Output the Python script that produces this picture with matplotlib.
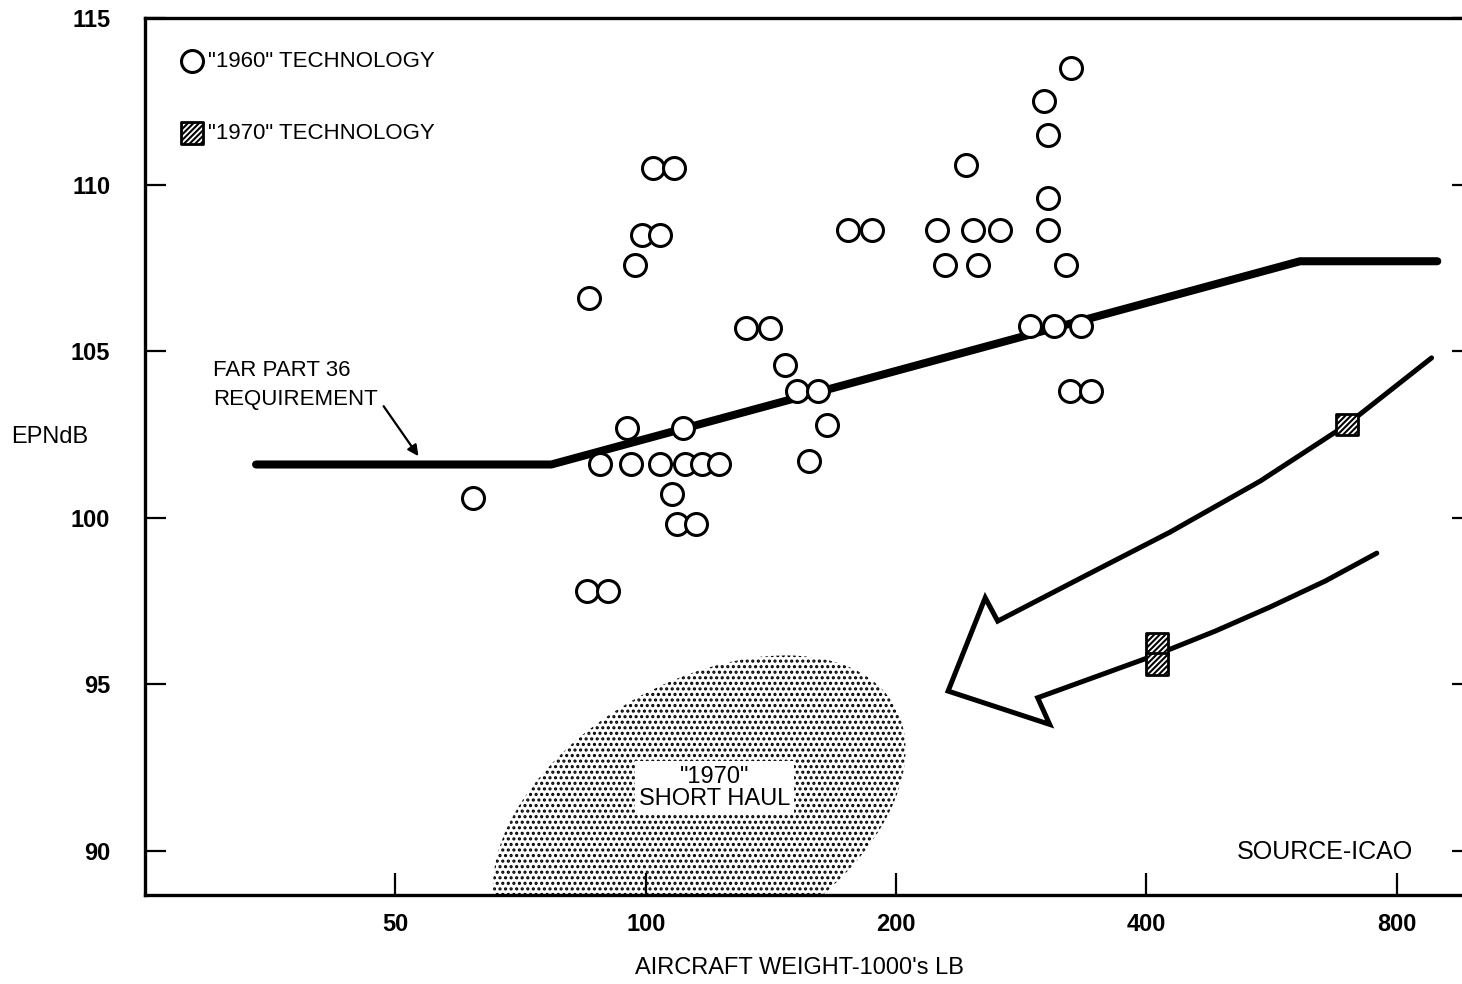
import matplotlib
matplotlib.use("Agg")
import matplotlib.pyplot as plt
import matplotlib.transforms as mtransforms
from matplotlib.patches import Ellipse

# "1960" technology aircraft: gross weight (1000 lb) and noise (EPNdB)
weight_1960 = [62, 85, 90, 85.5, 88, 95, 96, 97, 99, 104, 102, 108,
               104, 107.5, 109, 115, 111, 111.5, 117, 122.5, 132, 141, 147, 152,
               161, 157, 165, 175, 187, 224, 229, 243, 247.5, 251, 267, 290,
               310, 334, 301, 305, 305, 305, 320, 325, 324, 343]
epndb_1960 = [100.6, 97.8, 97.8, 106.6, 101.6, 102.7, 101.6, 107.6, 108.5, 108.5, 110.5, 110.5,
              101.6, 100.7, 99.8, 99.8, 102.7, 101.6, 101.6, 101.6, 105.7, 105.7, 104.6, 103.8,
              103.8, 101.7, 102.8, 108.65, 108.65, 108.65, 107.6, 110.6, 108.65, 107.6, 108.65, 105.75,
              105.75, 105.75, 112.5, 111.5, 109.6, 108.65, 107.6, 113.5, 103.8, 103.8]

# "1970" technology aircraft
weight_1970 = [412, 412, 697]
epndb_1970 = [96.2, 95.6, 102.8]

# FAR Part 36 requirement
far36_weight = [34, 77, 612, 895]
far36_epndb = [101.6, 101.6, 107.7, 107.7]

# trend through the 1970 aircraft, drawn as a big open arrow
arrow_weight = [881, 697, 548, 427, 337, 265,
                256, 231, 306, 296,
                352, 412, 484, 563, 656, 757]
arrow_epndb = [104.8, 102.8, 101.1, 99.57, 98.25, 96.9,
               97.6, 94.8, 93.8, 94.6,
               95.28, 95.9, 96.6, 97.32, 98.1, 98.94]

# "1970" short haul region (centre)
shorthaul_weight = 116
shorthaul_epndb = 91.0

x_ticks = [50, 100, 200, 400, 800]
y_ticks = [90, 95, 100, 105, 110, 115]

plt.rcParams["font.family"] = ["Liberation Sans", "DejaVu Sans"]
plt.rcParams["hatch.linewidth"] = 1.5

fig = plt.figure(figsize=(14.62, 9.84), dpi=100)
ax = fig.add_axes([145 / 1462, 89 / 984, 1328 / 1462, 877 / 984])

ax.set_xscale("log", base=2)
ax.set_xlim(25, 988)
ax.set_ylim(88.68, 115)

ax.plot(far36_weight, far36_epndb, color="black", lw=5.8,
        solid_capstyle="round", zorder=2)
ax.plot(arrow_weight, arrow_epndb, color="black", lw=3.6,
        solid_joinstyle="miter", solid_capstyle="round", zorder=2)

ax.scatter(weight_1960, epndb_1960, s=250, facecolor="white",
           edgecolor="black", linewidths=2.2, zorder=3,
           label='"1960" TECHNOLOGY')
ax.scatter(weight_1970, epndb_1970, s=250, marker="s", facecolor="white",
           edgecolor="black", linewidths=2.0, hatch="//////", zorder=3,
           label='"1970" TECHNOLOGY')

# stippled short haul blob
trans = fig.dpi_scale_trans + mtransforms.ScaledTranslation(
    shorthaul_weight, shorthaul_epndb, ax.transData)
blob = Ellipse((0, 0), width=4.5, height=2.7, angle=30, transform=trans,
               facecolor="none", edgecolor="black", linewidth=0, hatch="...",
               zorder=1)
ax.add_patch(blob)
ax.text(121, 91.9, '"1970"\nSHORT HAUL', ha="center", va="center",
        fontsize=17, linespacing=1.0, zorder=2,
        bbox=dict(facecolor="white", edgecolor="none", pad=3))

ax.text(30.2, 104.0, "FAR PART 36\nREQUIREMENT", fontsize=16, ha="left",
        va="center", linespacing=1.5)
ax.annotate("", xy=(53.3, 101.85), xytext=(48.4, 103.35),
            arrowprops=dict(arrowstyle="-|>", color="black", lw=1.6,
                            shrinkA=0, shrinkB=0, mutation_scale=16))
ax.text(0.955, 0.049, "SOURCE-ICAO", transform=ax.transAxes, ha="right",
        va="center", fontsize=18)

ax.set_xticks(x_ticks)
ax.set_xticklabels([str(v) for v in x_ticks])
ax.xaxis.set_minor_locator(matplotlib.ticker.NullLocator())
ax.set_yticks(y_ticks)
ax.tick_params(axis="x", direction="in", length=16, width=1.6, pad=13,
               labelsize=17, top=False)
ax.tick_params(axis="y", direction="in", length=15, width=1.6, pad=25,
               labelsize=17, right=True)
for lab in ax.get_xticklabels() + ax.get_yticklabels():
    lab.set_fontweight("bold")

for side in ["left", "bottom", "top", "right"]:
    ax.spines[side].set_linewidth(2.4)

ax.set_xlabel("AIRCRAFT WEIGHT-1000's LB", fontsize=17, va="center")
ax.xaxis.set_label_coords(0.493, -0.083)
ax.set_ylabel("EPNdB", fontsize=17, rotation=0, va="center", ha="center")
ax.yaxis.set_label_coords(-0.072, 0.522)

ax.legend(loc="upper left", bbox_to_anchor=(0.027, 0.962), frameon=False,
          fontsize=16, labelspacing=2.28, handletextpad=0.2, handlelength=1.0,
          borderpad=0, borderaxespad=0, scatterpoints=1)

fig.savefig("out.png", dpi=100)
